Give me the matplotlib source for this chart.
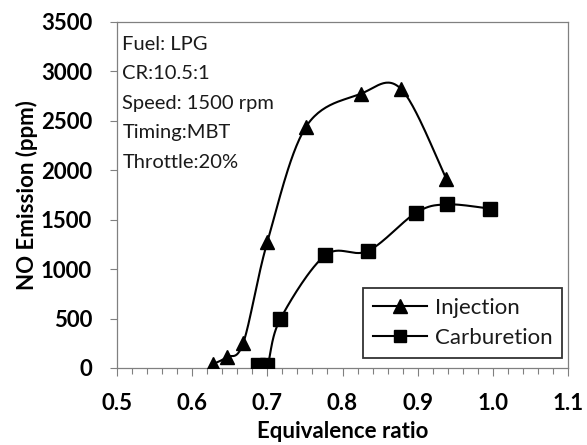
import numpy as np
import matplotlib
matplotlib.use("Agg")
import matplotlib.pyplot as plt
from matplotlib.ticker import MultipleLocator, FormatStrFormatter

plt.rcParams['font.family'] = ['Lato', 'DejaVu Sans']

inj_x = [0.628, 0.646, 0.668, 0.700, 0.751, 0.824, 0.878, 0.938]
inj_y = [40, 110, 255, 1275, 2435, 2772, 2822, 1914]
carb_x = [0.688, 0.700, 0.717, 0.777, 0.834, 0.898, 0.939, 0.996]
carb_y = [30, 30, 491, 1140, 1184, 1571, 1655, 1612]
info_lines = ["Fuel: LPG", "CR:10.5:1", "Speed: 1500 rpm", "Timing:MBT", "Throttle:20%"]

XMIN, XMAX, YMIN, YMAX = 0.5, 1.1, 0, 3500
W_PX, H_PX = 451, 346

def smooth(xs, ys, n=30):
    xs = np.asarray(xs, float); ys = np.asarray(ys, float)
    px = (xs - XMIN) / (XMAX - XMIN) * W_PX
    py = (ys - YMIN) / (YMAX - YMIN) * H_PX
    P = np.column_stack([px, py])
    out = [P[0]]
    for i in range(len(P) - 1):
        p0 = P[i - 1] if i > 0 else P[i]
        p1 = P[i]; p2 = P[i + 1]
        p3 = P[i + 2] if i + 2 < len(P) else P[i + 1]
        c1 = p1 + (p2 - p0) / 6
        c2 = p2 - (p3 - p1) / 6
        t = np.linspace(0, 1, n)[1:, None]
        seg = (1 - t) ** 3 * p1 + 3 * (1 - t) ** 2 * t * c1 + 3 * (1 - t) * t ** 2 * c2 + t ** 3 * p2
        out.extend(seg)
    out = np.array(out)
    return out[:, 0] / W_PX * (XMAX - XMIN) + XMIN, out[:, 1] / H_PX * (YMAX - YMIN) + YMIN

fig = plt.figure(figsize=(5.87, 4.45), dpi=100)
ax = fig.add_axes([117/587, 1-368/445, 451/587, 346/445])

sx, sy = smooth(inj_x, inj_y)
ax.plot(sx, sy, color='black', lw=1.5, zorder=2)
ax.plot(inj_x, inj_y, ls='none', marker='^', ms=10, color='black', zorder=3)
sx, sy = smooth(carb_x, carb_y)
ax.plot(sx, sy, color='black', lw=1.5, zorder=2)
ax.plot(carb_x, carb_y, ls='none', marker='s', ms=10, color='black', zorder=3)

h1, = ax.plot([], [], color='black', lw=1.5, marker='^', ms=10, label='Injection')
h2, = ax.plot([], [], color='black', lw=1.5, marker='s', ms=9, label='Carburetion')
leg = ax.legend(handles=[h1, h2], loc='lower right', bbox_to_anchor=(0.987, 0.03),
                borderaxespad=0, fontsize=16, frameon=True, fancybox=False,
                edgecolor='black', handlelength=2.4, handletextpad=0.35,
                borderpad=0.45, labelspacing=0.45)
leg.get_frame().set_linewidth(1.3)
for t in leg.get_texts():
    t.set_color('#1a1a1a')

ax.set_xlim(XMIN, XMAX)
ax.set_ylim(YMIN, YMAX)
ax.xaxis.set_major_locator(MultipleLocator(0.1))
ax.xaxis.set_minor_locator(MultipleLocator(0.02))
ax.yaxis.set_major_locator(MultipleLocator(500))
ax.xaxis.set_major_formatter(FormatStrFormatter('%.1f'))
ax.tick_params(axis='x', which='major', direction='out', length=6, width=0.8, colors='#808080',
               labelcolor='black', labelsize=16, pad=12)
ax.tick_params(axis='x', which='minor', direction='out', length=4, width=0.8, colors='#808080')
ax.tick_params(axis='y', which='major', direction='out', length=5, width=0.8, colors='#808080',
               labelcolor='black', labelsize=16, pad=13)
for lab in ax.get_xticklabels() + ax.get_yticklabels():
    lab.set_fontweight('bold')
for s in ax.spines.values():
    s.set_color('#808080')
    s.set_linewidth(0.9)

ax.set_xlabel('Equivalence ratio', fontsize=16, fontweight='bold', labelpad=5)
ax.set_ylabel('NO Emission (ppm)', fontsize=16, fontweight='bold', labelpad=2)

for i, line in enumerate(info_lines):
    ax.text(0.012, 0.936 - i * 0.0853, line, transform=ax.transAxes, fontsize=14.5,
            ha='left', va='center', color='#1a1a1a')

fig.savefig('out.png', dpi=100)
